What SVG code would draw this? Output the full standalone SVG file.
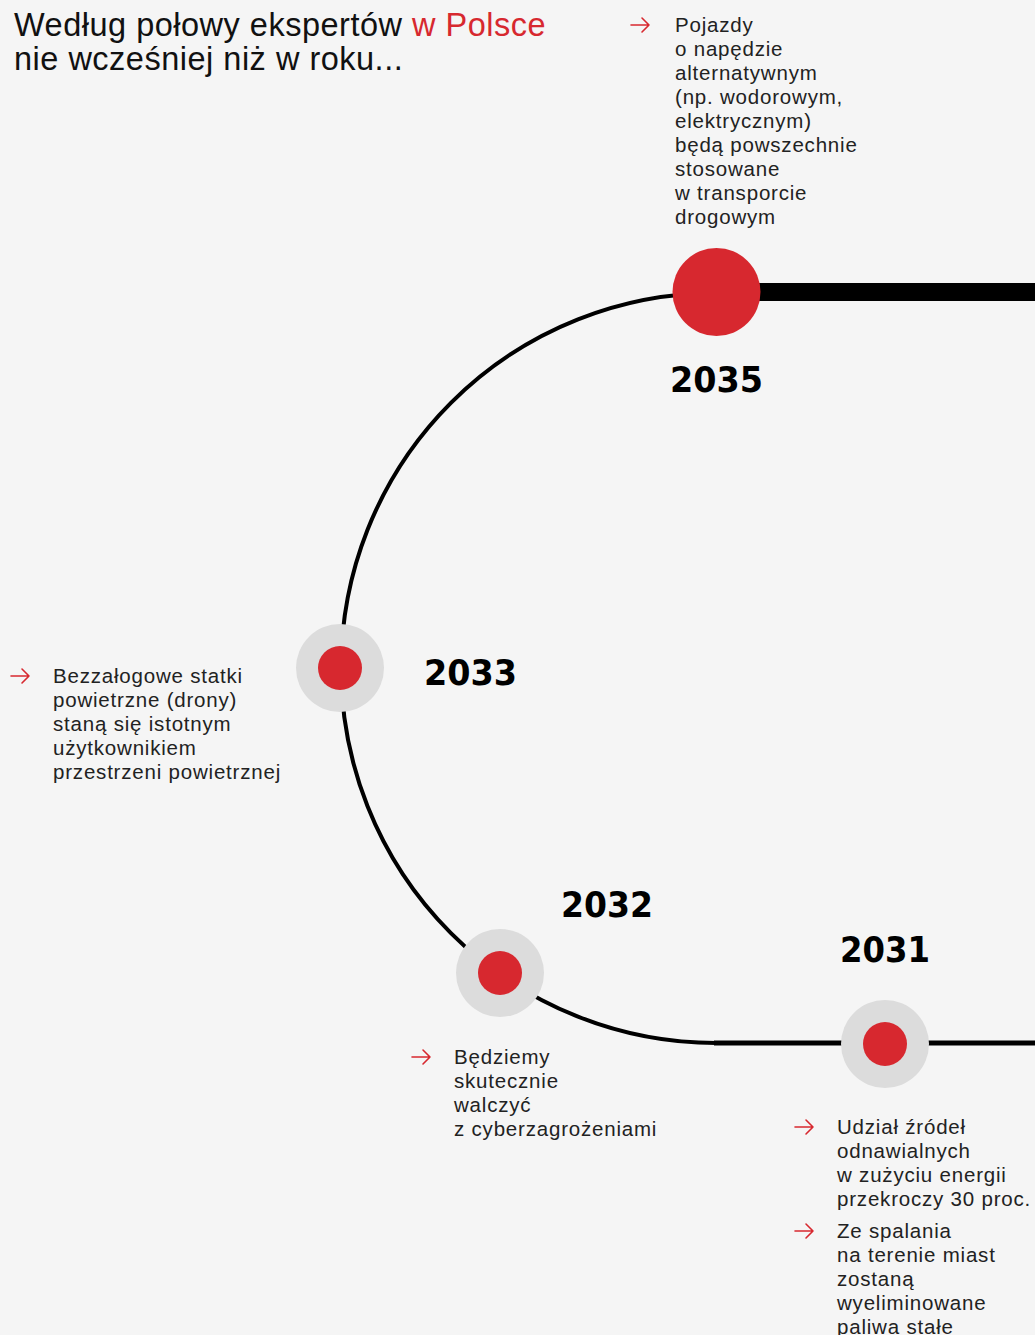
<svg xmlns="http://www.w3.org/2000/svg" width="1035" height="1335" viewBox="0 0 1035 1335">
<defs>
<style>
.bg{fill:#f5f5f5}
.title{font-family:"Liberation Sans","Noto Sans",Arial,sans-serif;font-size:32.5px;letter-spacing:0.5px;fill:#111}
.red{fill:#d7282f}
.body{font-family:"Liberation Sans","Noto Sans",Arial,sans-serif;font-size:20.5px;letter-spacing:0.8px;fill:#222}
.year{font-family:"DejaVu Sans","Liberation Sans",sans-serif;font-weight:bold;font-size:35px;fill:#000}
.halo{fill:#dcdcdc}
.dot{fill:#d7282f}
.arrow{fill:none;stroke:#d7282f;stroke-width:1.6;stroke-linecap:round;stroke-linejoin:round}
.line{fill:none;stroke:#000}
</style>
<path id="arr" d="M0 0 H18 M11 -7 L18 0 L11 7"/>
</defs>
<rect class="bg" x="0" y="0" width="1035" height="1335"/>

<g id="title">
<text class="title" x="14" y="36">Według połowy ekspertów <tspan class="red">w Polsce</tspan></text>
<text class="title" x="14" y="70">nie wcześniej niż w roku...</text>
</g>

<g id="connectors">
<path class="line" stroke-width="4" d="M716 293 A375 375 0 0 0 716 1043"/>
<path class="line" stroke-width="5" d="M714 1043 H1035"/>
<rect x="740" y="283" width="295" height="18" fill="#000"/>
</g>

<g id="node-2035">
<circle class="dot" cx="716.5" cy="292" r="44"/>
<text class="year" x="670" y="392" textLength="93" lengthAdjust="spacingAndGlyphs">2035</text>
<use href="#arr" class="arrow" x="631" y="25"/>
<text class="body" x="675" y="32">Pojazdy</text>
<text class="body" x="675" y="56">o napędzie</text>
<text class="body" x="675" y="80">alternatywnym</text>
<text class="body" x="675" y="104">(np. wodorowym,</text>
<text class="body" x="675" y="128">elektrycznym)</text>
<text class="body" x="675" y="152">będą powszechnie</text>
<text class="body" x="675" y="176">stosowane</text>
<text class="body" x="675" y="200">w transporcie</text>
<text class="body" x="675" y="224">drogowym</text>
</g>

<g id="node-2033">
<circle class="halo" cx="340" cy="668" r="44"/>
<circle class="dot" cx="340" cy="668" r="22"/>
<text class="year" x="424" y="685" textLength="93" lengthAdjust="spacingAndGlyphs">2033</text>
<use href="#arr" class="arrow" x="11" y="676"/>
<text class="body" x="53" y="683">Bezzałogowe statki</text>
<text class="body" x="53" y="707">powietrzne (drony)</text>
<text class="body" x="53" y="731">staną się istotnym</text>
<text class="body" x="53" y="755">użytkownikiem</text>
<text class="body" x="53" y="779">przestrzeni powietrznej</text>
</g>

<g id="node-2032">
<circle class="halo" cx="500" cy="973" r="44"/>
<circle class="dot" cx="500" cy="973" r="22"/>
<text class="year" x="561" y="917" textLength="92" lengthAdjust="spacingAndGlyphs">2032</text>
<use href="#arr" class="arrow" x="412" y="1057"/>
<text class="body" x="454" y="1064">Będziemy</text>
<text class="body" x="454" y="1088">skutecznie</text>
<text class="body" x="454" y="1112">walczyć</text>
<text class="body" x="454" y="1136">z cyberzagrożeniami</text>
</g>

<g id="node-2031">
<circle class="halo" cx="885" cy="1044" r="44"/>
<circle class="dot" cx="885" cy="1044" r="22"/>
<text class="year" x="840" y="962" textLength="90" lengthAdjust="spacingAndGlyphs">2031</text>
<use href="#arr" class="arrow" x="795" y="1127"/>
<text class="body" x="837" y="1134">Udział źródeł</text>
<text class="body" x="837" y="1158">odnawialnych</text>
<text class="body" x="837" y="1182">w zużyciu energii</text>
<text class="body" x="837" y="1206">przekroczy 30 proc.</text>
<use href="#arr" class="arrow" x="795" y="1231"/>
<text class="body" x="837" y="1238">Ze spalania</text>
<text class="body" x="837" y="1262">na terenie miast</text>
<text class="body" x="837" y="1286">zostaną</text>
<text class="body" x="837" y="1310">wyeliminowane</text>
<text class="body" x="837" y="1334">paliwa stałe</text>
</g>
</svg>
